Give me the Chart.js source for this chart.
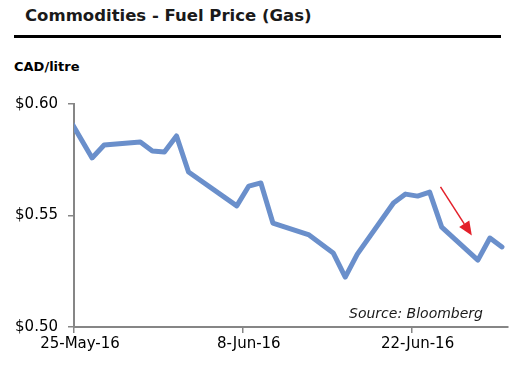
<!DOCTYPE html>
<html>
<head>
<meta charset="utf-8">
<script src="https://cdn.jsdelivr.net/npm/chart.js@4.4.1/dist/chart.umd.min.js"></script>
<style>
	body { margin: 0; background: #fff; }
	#wrap { position: relative; width: 521px; height: 375px; overflow: hidden; }
	#title {
		position: absolute; left: 25px; top: 6px;
		font: bold 16.5px "DejaVu Sans"; color: #1a1a1a; white-space: nowrap;
	}
	#rule { position: absolute; left: 14px; top: 35px; width: 487px; height: 3px; background: #000; }
	#unit {
		position: absolute; left: 14px; top: 59px;
		font: bold 13px "DejaVu Sans"; color: #000; white-space: nowrap;
	}
	canvas { position: absolute; left: 0; top: 0; }
</style>
</head>
<body>
<div id="wrap">
	<div id="title">Commodities - Fuel Price (Gas)</div>
	<div id="rule"></div>
	<div id="unit">CAD/litre</div>
	<canvas id="fuel-chart" width="521" height="375"></canvas>
</div>
<script>
// Chart data
const startDate = "2016-05-25";
const endDate = "2016-06-30";
const dates = [
	"2016-05-24", "2016-05-26", "2016-05-27", "2016-05-30", "2016-05-31",
	"2016-06-01", "2016-06-02", "2016-06-03", "2016-06-07", "2016-06-08",
	"2016-06-09", "2016-06-10", "2016-06-13", "2016-06-15", "2016-06-16",
	"2016-06-17", "2016-06-20", "2016-06-21", "2016-06-22", "2016-06-23",
	"2016-06-24", "2016-06-27", "2016-06-28", "2016-06-29",
];
const gasPrice = [
	0.5943, 0.5758, 0.5816, 0.5830, 0.5789,
	0.5785, 0.5857, 0.5695, 0.5543, 0.5632,
	0.5646, 0.5466, 0.5413, 0.5332, 0.5224,
	0.5327, 0.5556, 0.5596, 0.5587, 0.5605,
	0.5448, 0.5300, 0.5399, 0.5359,
];
const xTickDates = ["2016-05-25", "2016-06-08", "2016-06-22"];
const xTickLabels = ["25-May-16", "8-Jun-16", "22-Jun-16"];
const yTicks = [0.50, 0.55, 0.60];
const arrowFrom = ["2016-06-24", 0.5628];
const arrowTo = ["2016-06-27", 0.5410];
const sourceText = "Source: Bloomberg";

const DAY = 86400000;
const dayOf = (s) => (Date.parse(s) - Date.parse(startDate)) / DAY;
// excel date axis puts each point in the middle of its day
const slot = (s) => dayOf(s) + 0.5;

const points = dates.map((d, i) => ({ x: slot(d), y: gasPrice[i] }));

const AXIS = "#868686";
const FONT = "DejaVu Sans";

const annotations = {
	id: "annotations",
	afterDatasetsDraw(chart) {
		const { ctx, scales, chartArea } = chart;
		const x1 = scales.x.getPixelForValue(dayOf(arrowFrom[0]) + 0.4);
		const y1 = scales.y.getPixelForValue(arrowFrom[1]);
		const x2 = scales.x.getPixelForValue(dayOf(arrowTo[0]));
		const y2 = scales.y.getPixelForValue(arrowTo[1]);
		const ang = Math.atan2(y2 - y1, x2 - x1);
		const head = 14, half = 6;

		ctx.save();
		ctx.strokeStyle = "#e3202a";
		ctx.fillStyle = "#e3202a";
		ctx.lineWidth = 1.5;
		ctx.beginPath();
		ctx.moveTo(x1, y1);
		ctx.lineTo(x2 - Math.cos(ang) * head, y2 - Math.sin(ang) * head);
		ctx.stroke();
		ctx.beginPath();
		ctx.moveTo(x2, y2);
		ctx.lineTo(
			x2 - Math.cos(ang) * head - Math.sin(ang) * half,
			y2 - Math.sin(ang) * head + Math.cos(ang) * half
		);
		ctx.lineTo(
			x2 - Math.cos(ang) * head + Math.sin(ang) * half,
			y2 - Math.sin(ang) * head - Math.cos(ang) * half
		);
		ctx.closePath();
		ctx.fill();

		// source note
		ctx.font = "oblique 14px " + FONT;
		ctx.fillStyle = "#1a1a1a";
		ctx.textAlign = "right";
		ctx.textBaseline = "middle";
		ctx.fillText(sourceText, chartArea.right - 25, chartArea.bottom - 13);
		ctx.restore();
	},
};

Chart.defaults.font.family = FONT;
Chart.defaults.color = "#000";

new Chart(document.getElementById("fuel-chart"), {
	type: "line",
	data: {
		datasets: [
			{
				label: "Gas",
				data: points,
				borderColor: "#6a8fcb",
				borderWidth: 5,
				borderJoinStyle: "round",
				borderCapStyle: "round",
				pointRadius: 0,
				tension: 0,
				clip: 0,
			},
		],
	},
	options: {
		responsive: false,
		animation: false,
		layout: { padding: { top: 104, right: 13, left: 0, bottom: 0 } },
		plugins: {
			legend: { display: false },
			tooltip: { enabled: false },
		},
		scales: {
			x: {
				type: "linear",
				min: 0,
				max: dayOf(endDate),
				afterBuildTicks: (scale) => {
					scale.ticks = xTickDates.map((d) => ({ value: dayOf(d) }));
				},
				afterFit: (scale) => {
					scale.height = 48;
				},
				border: { color: AXIS, width: 2 },
				grid: {
					drawOnChartArea: false,
					color: AXIS,
					lineWidth: 1.5,
					tickLength: 6,
				},
				ticks: {
					font: { size: 15 },
					padding: 2,
					maxRotation: 0,
					labelOffset: 6,
					callback: (v) => xTickLabels[xTickDates.findIndex((d) => dayOf(d) === v)],
				},
			},
			y: {
				min: yTicks[0],
				max: yTicks[yTicks.length - 1],
				afterBuildTicks: (scale) => {
					scale.ticks = yTicks.map((v) => ({ value: v }));
				},
				afterFit: (scale) => {
					scale.width = 74;
				},
				border: { color: AXIS, width: 2 },
				grid: {
					drawOnChartArea: false,
					color: AXIS,
					lineWidth: 1.5,
					tickLength: 6,
				},
				ticks: {
					font: { size: 15 },
					padding: 10,
					callback: (v) => "$" + v.toFixed(2),
				},
			},
		},
	},
	plugins: [annotations],
});
</script>
</body>
</html>
